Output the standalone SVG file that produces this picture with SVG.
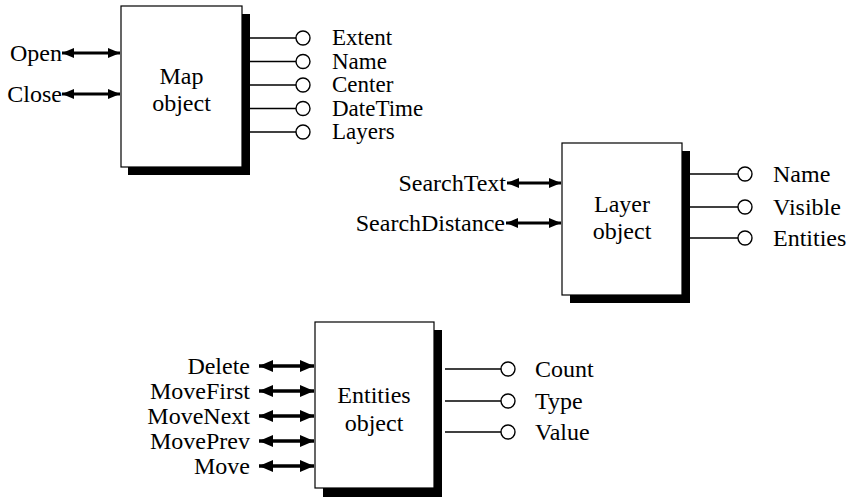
<svg xmlns="http://www.w3.org/2000/svg" width="851" height="497" viewBox="0 0 851 497">
<style>
  text { font-family: "Liberation Serif", "Times New Roman", serif; font-size: 24px; fill: #000; }
  .sm { font-size: 23px; }
  .box { fill: #fff; stroke: #000; stroke-width: 1.2; }
  .shadow { fill: #000; }
  .prop { stroke: #000; stroke-width: 1.4; fill: none; }
  .pin { fill: #fff; stroke: #000; stroke-width: 1.4; }
  .meth { stroke: #000; stroke-width: 3; fill: none; marker-start: url(#ah); marker-end: url(#ah); }
  .meth2 { stroke: #000; stroke-width: 3.5; fill: none; marker-start: url(#ah2); marker-end: url(#ah2); }
  .mid { text-anchor: middle; }
  .end { text-anchor: end; }
</style>
<defs>
  <marker id="ah" markerUnits="userSpaceOnUse" viewBox="0 0 12 10" refX="12" refY="5" markerWidth="12" markerHeight="10" orient="auto-start-reverse">
    <path d="M0,0 L12,5 L0,10 Z" fill="#000"/>
  </marker>
  <marker id="ah2" markerUnits="userSpaceOnUse" viewBox="0 0 14 12" refX="14" refY="6" markerWidth="14" markerHeight="12" orient="auto-start-reverse">
    <path d="M0,0 L14,6 L0,12 Z" fill="#000"/>
  </marker>
</defs>

<g id="map-object">
  <path class="shadow" d="M242,14 H250 V175 H128 V167 H242 Z"/>
  <rect class="box" x="121" y="6" width="121" height="161"/>
  <text class="mid" x="181.5" y="84">Map</text>
  <text class="mid" x="181.5" y="111">object</text>
  <text class="end" x="62" y="61">Open</text>
  <text class="end" x="62" y="102">Close</text>
  <circle class="pin" cx="303" cy="38" r="7"/>
  <circle class="pin" cx="303" cy="61.5" r="7"/>
  <circle class="pin" cx="303" cy="85" r="7"/>
  <circle class="pin" cx="303" cy="108.5" r="7"/>
  <circle class="pin" cx="303" cy="132" r="7"/>
  <text class="sm" x="332" y="45">Extent</text>
  <text class="sm" x="332" y="68.5">Name</text>
  <text class="sm" x="332" y="92">Center</text>
  <text class="sm" x="332" y="115.5">DateTime</text>
  <text class="sm" x="332" y="139">Layers</text>
</g>

<g id="layer-object">
  <path class="shadow" d="M682,151 H690 V303 H570 V295 H682 Z"/>
  <rect class="box" x="562" y="143" width="120" height="152"/>
  <text class="mid" x="622" y="212">Layer</text>
  <text class="mid" x="622" y="239">object</text>
  <text class="end" x="506" y="191">SearchText</text>
  <text class="end" x="505" y="231">SearchDistance</text>
  <circle class="pin" cx="745" cy="174" r="7"/>
  <circle class="pin" cx="745" cy="207" r="7"/>
  <circle class="pin" cx="745" cy="238" r="7"/>
  <text x="773" y="182">Name</text>
  <text x="773" y="215">Visible</text>
  <text x="773" y="246">Entities</text>
</g>

<g id="entities-object">
  <path class="shadow" d="M434,330 H442 V497 H323 V488 H434 Z"/>
  <rect class="box" x="315" y="322" width="119" height="166"/>
  <text class="mid" x="374" y="403">Entities</text>
  <text class="mid" x="374" y="431">object</text>
  <text class="end" x="250" y="374">Delete</text>
  <text class="end" x="250" y="399">MoveFirst</text>
  <text class="end" x="250" y="424">MoveNext</text>
  <text class="end" x="250" y="449">MovePrev</text>
  <text class="end" x="250" y="474">Move</text>
  <circle class="pin" cx="508" cy="369" r="7"/>
  <circle class="pin" cx="508" cy="401" r="7"/>
  <circle class="pin" cx="508" cy="432" r="7"/>
  <text x="535" y="377">Count</text>
  <text x="535" y="409">Type</text>
  <text x="535" y="440">Value</text>
</g>

<g id="connectors">
  <line class="meth" x1="62" y1="53" x2="120" y2="53"/>
  <line class="meth" x1="62" y1="94" x2="120" y2="94"/>
  <line class="prop" x1="250" y1="38" x2="296" y2="38"/>
  <line class="prop" x1="250" y1="61.5" x2="296" y2="61.5"/>
  <line class="prop" x1="250" y1="85" x2="296" y2="85"/>
  <line class="prop" x1="250" y1="108.5" x2="296" y2="108.5"/>
  <line class="prop" x1="250" y1="132" x2="296" y2="132"/>

  <line class="meth" x1="507" y1="183" x2="561" y2="183"/>
  <line class="meth" x1="506" y1="223" x2="561" y2="223"/>
  <line class="prop" x1="690" y1="174" x2="738" y2="174"/>
  <line class="prop" x1="690" y1="207" x2="738" y2="207"/>
  <line class="prop" x1="690" y1="238" x2="738" y2="238"/>

  <line class="meth2" x1="259" y1="366" x2="314" y2="366"/>
  <line class="meth2" x1="259" y1="391" x2="314" y2="391"/>
  <line class="meth2" x1="259" y1="416" x2="314" y2="416"/>
  <line class="meth2" x1="259" y1="441" x2="314" y2="441"/>
  <line class="meth2" x1="259" y1="466" x2="314" y2="466"/>
  <line class="prop" x1="445" y1="369" x2="501" y2="369"/>
  <line class="prop" x1="445" y1="401" x2="501" y2="401"/>
  <line class="prop" x1="445" y1="432" x2="501" y2="432"/>
</g>
</svg>
